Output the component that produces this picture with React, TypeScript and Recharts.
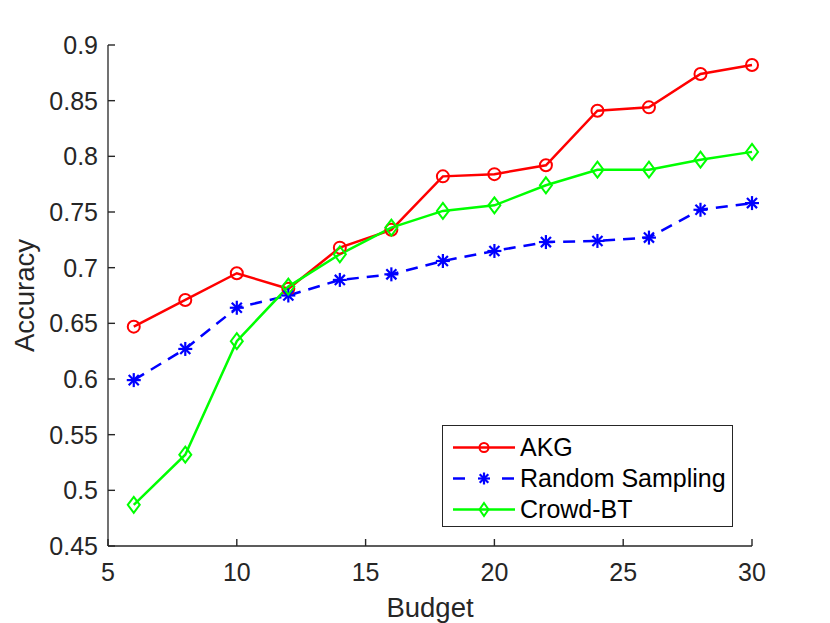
import React from "react";
import {
  LineChart,
  Line,
  XAxis,
  YAxis,
  Legend,
} from "recharts";

const budgets = [6, 8, 10, 12, 14, 16, 18, 20, 22, 24, 26, 28, 30];
const akg = [0.647, 0.671, 0.695, 0.681, 0.718, 0.734, 0.782, 0.784, 0.792, 0.841, 0.844, 0.874, 0.882];
const randomSampling = [0.599, 0.627, 0.664, 0.675, 0.689, 0.694, 0.706, 0.715, 0.723, 0.724, 0.727, 0.752, 0.758];
const crowdBT = [0.487, 0.532, 0.634, 0.683, 0.712, 0.736, 0.751, 0.756, 0.774, 0.788, 0.788, 0.797, 0.804];

const xTicks = [5, 10, 15, 20, 25, 30];
const yTicks = [0.45, 0.5, 0.55, 0.6, 0.65, 0.7, 0.75, 0.8, 0.85, 0.9];

const data = budgets.map((b, i) => ({
  budget: b,
  akg: akg[i],
  random: randomSampling[i],
  crowd: crowdBT[i],
}));

const AXIS = "#262626";
const FONT = "'Liberation Sans', Arial, sans-serif";
const TICK_LEN = 7;
const TICK_FONT = 25;

// ticks point inward, like MATLAB
const BottomTick = (props: any) => {
  const { x, y, payload } = props;
  const m = 17;
  return (
    <g>
      <line x1={x} y1={y - m} x2={x} y2={y - m - TICK_LEN} stroke={AXIS} strokeWidth={1.4} />
      <text x={x} y={y} dy="0.71em" textAnchor="middle" fontSize={TICK_FONT} fill={AXIS} fontFamily={FONT}>
        {payload.value}
      </text>
    </g>
  );
};

const LeftTick = (props: any) => {
  const { x, y, payload } = props;
  const m = 10;
  return (
    <g>
      <line x1={x + m} y1={y} x2={x + m + TICK_LEN} y2={y} stroke={AXIS} strokeWidth={1.4} />
      <text x={x} y={y} dy="0.355em" textAnchor="end" fontSize={TICK_FONT} fill={AXIS} fontFamily={FONT}>
        {String(Number(Number(payload.value).toFixed(2)))}
      </text>
    </g>
  );
};

const TopTick = (props: any) => {
  const { x, y } = props;
  return <line x1={x} y1={y} x2={x} y2={y + TICK_LEN} stroke={AXIS} strokeWidth={1.4} />;
};

const RightTick = (props: any) => {
  const { x, y } = props;
  return <line x1={x} y1={y} x2={x - TICK_LEN} y2={y} stroke={AXIS} strokeWidth={1.4} />;
};

const CircleDot = (props: any) => {
  const { cx, cy, stroke, size = 6 } = props;
  if (cx == null || cy == null) return null;
  return <circle cx={cx} cy={cy} r={size} fill="none" stroke={stroke} strokeWidth={2} />;
};

const StarDot = (props: any) => {
  const { cx, cy, stroke, size = 7 } = props;
  if (cx == null || cy == null) return null;
  const d = size * 0.72;
  return (
    <g stroke={stroke} strokeWidth={2.2}>
      <line x1={cx - size} y1={cy} x2={cx + size} y2={cy} />
      <line x1={cx} y1={cy - size} x2={cx} y2={cy + size} />
      <line x1={cx - d} y1={cy - d} x2={cx + d} y2={cy + d} />
      <line x1={cx - d} y1={cy + d} x2={cx + d} y2={cy - d} />
    </g>
  );
};

const DiamondDot = (props: any) => {
  const { cx, cy, stroke, w = 6, h = 8 } = props;
  if (cx == null || cy == null) return null;
  return (
    <polygon
      points={`${cx},${cy - h} ${cx + w},${cy} ${cx},${cy + h} ${cx - w},${cy}`}
      fill="none"
      stroke={stroke}
      strokeWidth={2}
    />
  );
};

const legendItems = [
  { label: "AKG", color: "#ff0000", dashed: false, Dot: CircleDot, props: { size: 4.5 } },
  { label: "Random Sampling", color: "#0000ff", dashed: true, Dot: StarDot, props: { size: 6 } },
  { label: "Crowd-BT", color: "#00ff00", dashed: false, Dot: DiamondDot, props: { w: 4.5, h: 6.5 } },
];

function LegendBox() {
  return (
    <div
      style={{
        width: 291,
        height: 102,
        border: `1.3px solid ${AXIS}`,
        background: "#fff",
        boxSizing: "border-box",
        paddingTop: 6,
        fontFamily: FONT,
        fontSize: 25,
        color: "#000",
      }}
    >
      {legendItems.map((it) => (
        <div key={it.label} style={{ display: "flex", alignItems: "center", height: 31 }}>
          <svg width={80} height={31} style={{ flex: "none" }}>
            {it.dashed ? (
              <g stroke={it.color} strokeWidth={2.5}>
                <line x1={10} y1={15.5} x2={22} y2={15.5} />
                <line x1={59} y1={15.5} x2={71} y2={15.5} />
              </g>
            ) : (
              <line x1={10} y1={15.5} x2={72} y2={15.5} stroke={it.color} strokeWidth={2.5} />
            )}
            <it.Dot cx={41} cy={15.5} stroke={it.color} {...it.props} />
          </svg>
          <span style={{ marginLeft: -3, lineHeight: "31px" }}>{it.label}</span>
        </div>
      ))}
    </div>
  );
}

export default function App() {
  return (
    <div style={{ position: "absolute", left: 0, top: 0, width: 830, height: 623, background: "#fff" }}>
      <LineChart
        width={830}
        height={623}
        data={data}
        margin={{ top: 45, right: 78, bottom: 17, left: 8 }}
      >
        <XAxis
          xAxisId="bottom"
          dataKey="budget"
          type="number"
          domain={[5, 30]}
          ticks={xTicks}
          height={60}
          stroke={AXIS}
          strokeWidth={1.3}
          tickSize={0}
          tickLine={false}
          tickMargin={17}
          tick={<BottomTick />}
          label={{
            value: "Budget",
            position: "insideBottom",
            offset: -11,
            style: { fontSize: 27.5, fill: AXIS, fontFamily: FONT },
          }}
        />
        <XAxis
          xAxisId="top"
          orientation="top"
          dataKey="budget"
          type="number"
          domain={[5, 30]}
          ticks={xTicks}
          height={0}
          stroke={AXIS}
          strokeWidth={1.3}
          tickSize={0}
          tickLine={false}
          tickMargin={0}
          tick={<TopTick />}
        />
        <YAxis
          yAxisId="left"
          type="number"
          domain={[0.45, 0.9]}
          ticks={yTicks}
          width={100}
          stroke={AXIS}
          strokeWidth={1.3}
          tickSize={0}
          tickLine={false}
          tickMargin={10}
          tick={<LeftTick />}
          label={{
            value: "Accuracy",
            angle: -90,
            position: "insideLeft",
            offset: 16,
            style: { fontSize: 27.5, fill: AXIS, fontFamily: FONT, textAnchor: "middle" },
          }}
        />
        <YAxis
          yAxisId="right"
          orientation="right"
          type="number"
          domain={[0.45, 0.9]}
          ticks={yTicks}
          width={0}
          stroke={AXIS}
          strokeWidth={1.3}
          tickSize={0}
          tickLine={false}
          tickMargin={0}
          tick={<RightTick />}
        />
        <Legend
          layout="vertical"
          align="center"
          verticalAlign="middle"
          content={() => <LegendBox />}
          wrapperStyle={{ left: 442, top: 425, width: 291, height: 102 }}
        />
        <Line
          xAxisId="bottom"
          yAxisId="left"
          dataKey="akg"
          name="AKG"
          stroke="#ff0000"
          strokeWidth={2.5}
          dot={<CircleDot />}
          isAnimationActive={false}
        />
        <Line
          xAxisId="bottom"
          yAxisId="left"
          dataKey="random"
          name="Random Sampling"
          stroke="#0000ff"
          strokeWidth={2.5}
          strokeDasharray="12 8"
          dot={<StarDot />}
          isAnimationActive={false}
        />
        <Line
          xAxisId="bottom"
          yAxisId="left"
          dataKey="crowd"
          name="Crowd-BT"
          stroke="#00ff00"
          strokeWidth={2.5}
          dot={<DiamondDot />}
          isAnimationActive={false}
        />
      </LineChart>
    </div>
  );
}
